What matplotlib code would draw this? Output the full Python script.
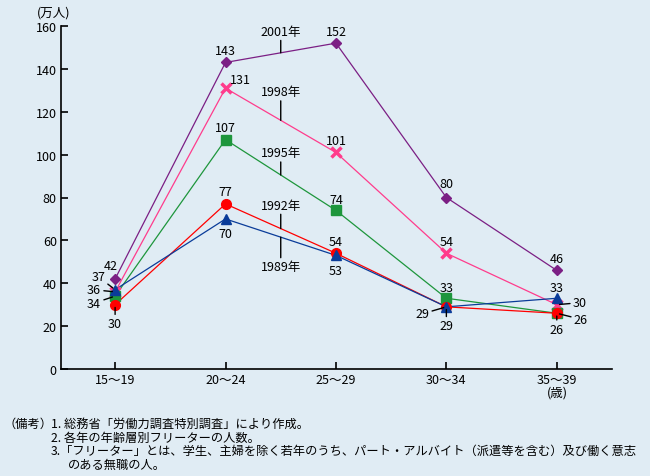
import numpy as np
import matplotlib
matplotlib.use("Agg")
import matplotlib.pyplot as plt

plt.rcParams['font.family'] = ['Noto Sans CJK JP', 'DejaVu Sans']

# data (万人)
age_groups = ["15～19", "20～24", "25～29", "30～34", "35～39"]
years = ["2001年", "1998年", "1995年", "1992年", "1989年"]
v2001 = [42, 143, 152, 80, 46]
v1998 = [36, 131, 101, 54, 30]
v1995 = [34, 107, 74, 33, 26]
v1992 = [30, 77, 54, 29, 26]
v1989 = [37, 70, 53, 29, 33]
series = [v2001, v1998, v1995, v1992, v1989]

# styles
colors = ["#7B1F84", "#FF3C8C", "#1E963C", "#FF0000", "#0A3C99"]
markers = ["D", "x", "s", "o", "^"]
msizes = [5.5, 7, 7, 7, 7]

# label offsets in pixels (dx, dy) and whether a leader line is drawn
offsets = [
    [(-4, 13, 0), (0, 12, 0), (0, 12, 0), (0, 14, 0), (0, 12, 0)],
    [(-21, 2, 1), (15, 9, 0), (0, 12, 0), (0, 12, 0), (23, 2, 1)],
    [(-21, -7, 1), (0, 12, 0), (0, 11, 0), (0, 11, 0), (24, -6, 1)],
    [(0, -19, 1), (0, 12, 0), (0, 12, 0), (-24, -7, 1), (0, -16, 1)],
    [(-17, 13, 1), (0, -15, 0), (0, -15, 0), (0, -19, 1), (0, 11, 0)],
]
year_label_y = [157.6, 129.4, 100.9, 76.5, 47.6]

bg = "#E0ECF4"
fig = plt.figure(figsize=(6.5, 4.77), dpi=100, facecolor=bg)
ax = fig.add_axes([61 / 650, 1 - 370 / 477, 551 / 650, 343 / 477])
ax.set_facecolor(bg)

x = np.arange(len(age_groups))
for vals, c, m, ms in zip(series, colors, markers, msizes):
    ax.plot(x, vals, color=c, lw=0.9, zorder=2)
    if m == "x":
        ax.plot(x, vals, ls="none", marker=m, ms=ms, mew=2.5, color=c, zorder=3)
    else:
        ax.plot(x, vals, ls="none", marker=m, ms=ms, color=c, mec=c, zorder=3)

# value labels
for vals, offs in zip(series, offsets):
    for i, (v, (dx, dy, lead)) in enumerate(zip(vals, offs)):
        kw = {}
        if lead:
            kw["arrowprops"] = dict(arrowstyle="-", color="black", lw=1,
                                    shrinkA=0, shrinkB=2)
        ax.annotate(str(v), xy=(i, v), xytext=(dx, dy), textcoords="offset pixels",
                    ha="center", va="center", fontsize=9, zorder=5, **kw)

# year labels with leader lines at the middle of 20～24 and 25～29
for vals, lab, ly in zip(series, years, year_label_y):
    mid = (vals[1] + vals[2]) / 2
    ax.annotate(lab, xy=(1.5, mid), xytext=(1.5, ly), textcoords="data",
                ha="center", va="center", fontsize=9,
                arrowprops=dict(arrowstyle="-", color="black", lw=1,
                                shrinkA=0, shrinkB=0))

ax.set_xlim(-0.49, 4.5)
ax.set_ylim(0, 160)
ax.set_xticks(x)
ax.set_xticklabels(age_groups)
ax.set_yticks(np.arange(0, 161, 20))
for s in ["top", "right"]:
    ax.spines[s].set_visible(False)
for s in ["left", "bottom"]:
    ax.spines[s].set_linewidth(1.2)
ax.tick_params(direction="in", length=5, width=1.2, labelsize=9, pad=3)

fig.text(54 / 650, 1 - 13 / 477, "(万人)", ha="center", va="center", fontsize=9)
fig.text(557 / 650, 1 - 393 / 477, "(歳)", ha="center", va="center", fontsize=9)

notes = [
    (3, 424, "（備考）"),
    (51, 424, "1. 総務省「労働力調査特別調査」により作成。"),
    (51, 438, "2. 各年の年齢層別フリーターの人数。"),
    (51, 451, "3.「フリーター」とは、学生、主婦を除く若年のうち、パート・アルバイト（派遣等を含む）及び働く意志"),
    (68, 465, "のある無職の人。"),
]
for nx, ny, t in notes:
    fig.text(nx / 650, 1 - ny / 477, t, ha="left", va="center", fontsize=8.8)

fig.savefig("out.png", dpi=100, facecolor=bg)
